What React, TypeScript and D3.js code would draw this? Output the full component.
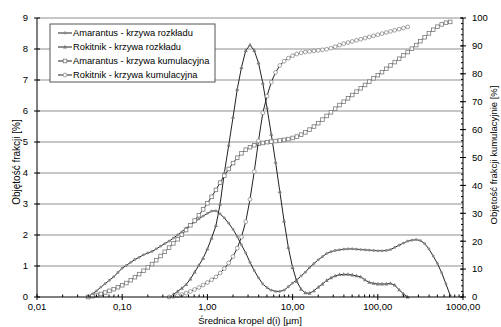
import React from 'react';
import * as d3 from 'd3';

// size classes d(i) [µm]
const sizes = [
  0.0398, 0.0447, 0.0501, 0.0562, 0.0631, 0.0708, 0.0794, 0.0891, 0.1, 0.112,
  0.126, 0.141, 0.158, 0.178, 0.2, 0.224, 0.251, 0.282, 0.316, 0.355,
  0.398, 0.447, 0.501, 0.562, 0.631, 0.708, 0.794, 0.891, 1.0, 1.12,
  1.26, 1.41, 1.58, 1.78, 2.0, 2.24, 2.51, 2.82, 3.16, 3.55,
  3.98, 4.47, 5.01, 5.62, 6.31, 7.08, 7.94, 8.91, 10, 11.2,
  12.6, 14.1, 15.8, 17.8, 20, 22.4, 25.1, 28.2, 31.6, 35.5,
  39.8, 44.7, 50.1, 56.2, 63.1, 70.8, 79.4, 89.1, 100, 112,
  126, 141, 158, 178, 200, 224, 251, 282, 316, 355,
  398, 447, 501, 562, 631, 708,
];

const amarantusDist = [
  0, 0.1, 0.2, 0.32, 0.43, 0.54, 0.65, 0.79, 0.93, 1.02,
  1.12, 1.21, 1.28, 1.36, 1.42, 1.47, 1.55, 1.64, 1.72, 1.8,
  1.9, 2.0, 2.1, 2.22, 2.32, 2.42, 2.52, 2.61, 2.7, 2.77,
  2.78, 2.68, 2.55, 2.38, 2.18, 1.95, 1.68, 1.42, 1.12, 0.85,
  0.62, 0.42, 0.3, 0.22, 0.18, 0.18, 0.22, 0.33, 0.45, 0.55,
  0.68, 0.8, 0.95, 1.08, 1.2, 1.3, 1.4, 1.46, 1.5, 1.52,
  1.54, 1.55, 1.55, 1.54, 1.53, 1.52, 1.51, 1.5, 1.49, 1.49,
  1.5, 1.53, 1.6, 1.67, 1.74, 1.8, 1.83, 1.85, 1.82, 1.72,
  1.55, 1.32, 1.08, 0.78, 0.42, 0.05,
];

const amarantusCum = [
  0, 0.3, 0.7, 1.1, 1.6, 2.2, 2.8, 3.5, 4.2, 5.0,
  6.0, 7.1, 8.2, 9.4, 10.6, 11.8, 13.2, 14.7, 16.2, 17.7,
  19.2, 20.7, 22.3, 24.0, 25.7, 27.4, 29.3, 31.4, 33.6, 35.9,
  38.4, 41.0, 43.5, 45.9, 48.0, 49.9, 51.5, 52.8, 53.7, 54.4,
  54.9, 55.2, 55.5, 55.7, 55.9, 56.1, 56.3, 56.6, 57.0, 57.5,
  58.2, 59.0, 60.0, 61.1, 62.3, 63.6, 64.9, 66.2, 67.5, 68.8,
  70.0, 71.2, 72.4, 73.6, 74.8, 76.0, 77.2, 78.4, 79.5, 80.6,
  81.8, 83.0, 84.2, 85.4, 86.6, 87.8, 89.0, 90.3, 91.7, 93.1,
  94.5, 95.8, 96.9, 97.7, 98.3, 98.6,
];

// Rokitnik is measured from 0.355 µm to 224 µm
const rokitnikSizes = sizes.slice(19, 76);

const rokitnikDist = [
  0, 0.08, 0.18, 0.28, 0.4, 0.58, 0.8, 1.02, 1.25, 1.55,
  1.9, 2.3, 3.0, 4.0, 4.9, 5.8, 6.7, 7.4, 7.95, 8.13,
  7.95, 7.55, 6.9, 6.1, 5.25, 4.35, 3.4, 2.45, 1.6, 0.95,
  0.5, 0.25, 0.13, 0.12, 0.2, 0.32, 0.42, 0.53, 0.62, 0.68,
  0.72, 0.73, 0.73, 0.71, 0.68, 0.65, 0.55, 0.47, 0.44, 0.42,
  0.42, 0.42, 0.44, 0.38, 0.23, 0.1, 0,
];

const rokitnikCum = [
  0, 0.2, 0.5, 0.9, 1.4, 2.0, 2.7, 3.4, 4.3, 5.2,
  6.2, 7.2, 8.6, 10.2, 12.2, 14.5, 17.5, 21.5, 27, 35,
  45, 56, 66, 72, 77, 80.5, 83, 84.5, 85.6, 86.5,
  87.1, 87.5, 87.8, 88.0, 88.2, 88.4, 88.6, 88.8, 89.2, 89.7,
  90.3, 90.8, 91.2, 91.6, 92.0, 92.4, 92.8, 93.2, 93.6, 94.0,
  94.4, 94.8, 95.2, 95.6, 96.0, 96.4, 96.8,
];

const leftTicks = [0, 1, 2, 3, 4, 5, 6, 7, 8, 9];
const rightTicks = [0, 10, 20, 30, 40, 50, 60, 70, 80, 90, 100];
const rightMinorTicks = d3.range(0, 101, 2);
const xTicks = [0.01, 0.1, 1, 10, 100, 1000];
const xTickLabels = ['0,01', '0,10', '1,00', '10,00', '100,00', '1000,00'];

const legendLabels = [
  'Amarantus - krzywa rozkładu',
  'Rokitnik - krzywa rozkładu',
  'Amarantus - krzywa kumulacyjna',
  'Rokitnik - krzywa kumulacyjna',
];

const FONT = "'Liberation Sans', Arial, sans-serif";

function Marker({ kind, cx, cy }: { kind: string; cx: number; cy: number }) {
  if (kind === 'dot') return <circle cx={cx} cy={cy} r={1.4} fill="#8a8a8a" />;
  if (kind === 'tri')
    return (
      <path
        d={`M${cx},${cy - 2.2}L${cx + 2},${cy + 1.4}L${cx - 2},${cy + 1.4}Z`}
        fill="#7a7a7a"
      />
    );
  if (kind === 'sq')
    return (
      <rect x={cx - 1.8} y={cy - 1.8} width={3.6} height={3.6} fill="#fff" stroke="#7a7a7a" strokeWidth={0.8} />
    );
  return <circle cx={cx} cy={cy} r={1.9} fill="#fff" stroke="#8a8a8a" strokeWidth={0.8} />;
}

export default function App() {
  const W = 501;
  const H = 327;
  const left = 37;
  const right = 463;
  const top = 18;
  const bottom = 297;

  const x = d3.scaleLog().domain([0.01, 1000]).range([left, right]);
  const yL = d3.scaleLinear().domain([0, 9]).range([bottom, top]);
  const yR = d3.scaleLinear().domain([0, 100]).range([bottom, top]);

  const xMinor: number[] = [];
  for (let e = -2; e < 3; e++) {
    for (let m = 2; m <= 9; m++) xMinor.push(m * Math.pow(10, e));
  }

  const series = [
    { xs: sizes, ys: amarantusDist, y: yL, kind: 'dot' },
    { xs: rokitnikSizes, ys: rokitnikDist, y: yL, kind: 'tri' },
    { xs: sizes, ys: amarantusCum, y: yR, kind: 'sq' },
    { xs: rokitnikSizes, ys: rokitnikCum, y: yR, kind: 'circ' },
  ];

  const lineColor = '#222';

  return (
    <svg
      width={W}
      height={H}
      style={{ position: 'absolute', left: 0, top: 0, background: '#fff' }}
      fontFamily={FONT}
    >
      <rect x={0} y={0} width={W} height={H} fill="#fff" />
      {/* gridlines */}
      {leftTicks.slice(1).map((t) => (
        <line key={'g' + t} x1={left} x2={right} y1={yL(t)} y2={yL(t)} stroke="#8f8f8f" strokeWidth={1} />
      ))}

      {/* series */}
      {series.map((s, i) => {
        const pts = s.xs.map((d, j) => [x(d), s.y(s.ys[j])] as [number, number]);
        const path = d3.line()(pts) || '';
        return (
          <g key={'s' + i}>
            <path d={path} fill="none" stroke={lineColor} strokeWidth={1} />
            {pts.map((p, j) => (
              <Marker key={j} kind={s.kind} cx={p[0]} cy={p[1]} />
            ))}
          </g>
        );
      })}

      {/* left axis */}
      <line x1={left} x2={left} y1={top} y2={bottom} stroke="#000" strokeWidth={1} />
      {leftTicks.map((t) => (
        <g key={'l' + t}>
          <line x1={left - 3} x2={left + 3} y1={yL(t)} y2={yL(t)} stroke="#000" />
          <text x={left - 9} y={yL(t)} dy="0.35em" textAnchor="end" fontSize={9.5} fill="#000">
            {t}
          </text>
        </g>
      ))}

      {/* right axis */}
      <line x1={right} x2={right} y1={top} y2={bottom} stroke="#000" strokeWidth={1} />
      {rightMinorTicks.map((t) => (
        <line key={'rm' + t} x1={right - 2} x2={right} y1={yR(t)} y2={yR(t)} stroke="#000" />
      ))}
      {rightTicks.map((t) => (
        <g key={'r' + t}>
          <line x1={right - 3} x2={right + 3} y1={yR(t)} y2={yR(t)} stroke="#000" />
          <text x={right + 9} y={yR(t)} dy="0.35em" textAnchor="start" fontSize={9.5} fill="#000">
            {t}
          </text>
        </g>
      ))}

      {/* x axis */}
      <line x1={left} x2={right} y1={bottom} y2={bottom} stroke="#000" strokeWidth={1} />
      {xMinor.map((t, i) => (
        <line key={'xm' + i} x1={x(t)} x2={x(t)} y1={bottom - 2.5} y2={bottom} stroke="#000" />
      ))}
      {xTicks.map((t, i) => (
        <g key={'x' + i}>
          <line x1={x(t)} x2={x(t)} y1={bottom - 3} y2={bottom + 3} stroke="#000" />
          <text x={x(t)} y={bottom + 13} textAnchor="middle" fontSize={9.5} fill="#000">
            {xTickLabels[i]}
          </text>
        </g>
      ))}

      {/* axis titles */}
      <text x={250} y={324} textAnchor="middle" fontSize={9.5} fill="#000">
        Średnica kropel d(i) [µm]
      </text>
      <text
        transform={`translate(16,162) rotate(-90)`}
        dy="0.35em"
        textAnchor="middle"
        fontSize={10}
        fill="#000"
      >
        Objętość frakcji [%]
      </text>
      <text
        transform={`translate(494,155) rotate(-90)`}
        dy="0.35em"
        textAnchor="middle"
        fontSize={9.5}
        fill="#000"
      >
        Objętość frakcji kumulacyjnie [%]
      </text>

      {/* legend */}
      <rect x={50} y={24} width={165} height={58} fill="#fff" stroke="#555" strokeWidth={1} />
      {legendLabels.map((lab, i) => {
        const cy = 33 + i * 14;
        const kind = series[i].kind;
        return (
          <g key={'lg' + i}>
            <line x1={58} x2={72} y1={cy} y2={cy} stroke={lineColor} strokeWidth={1} />
            <Marker kind={kind} cx={65} cy={cy} />
            <text x={73} y={cy} dy="0.35em" fontSize={9.3} fill="#000">
              {lab}
            </text>
          </g>
        );
      })}
    </svg>
  );
}
